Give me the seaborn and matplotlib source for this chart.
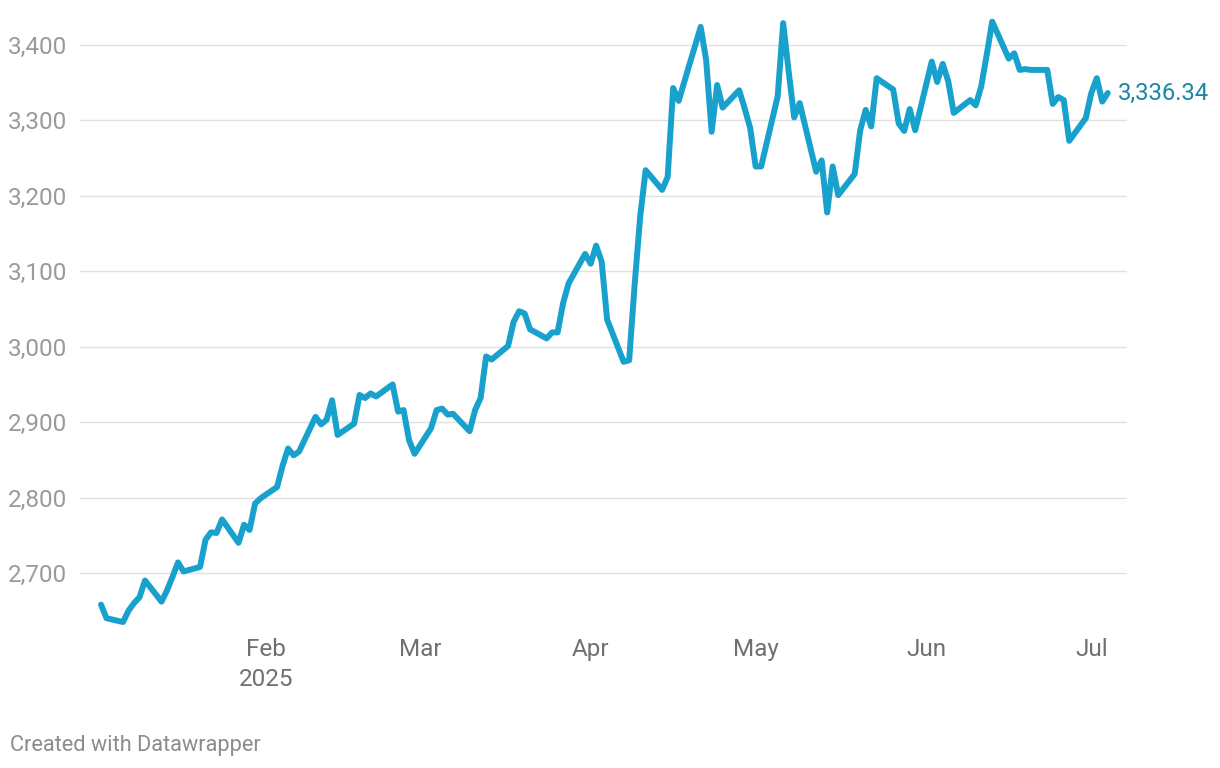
import numpy as np
import pandas as pd
import matplotlib
matplotlib.use("Agg")
import matplotlib.pyplot as plt
import matplotlib.dates as mdates
import seaborn as sns

# gold price, daily closes
dates = pd.to_datetime([
    "2025-01-02", "2025-01-03", "2025-01-06", "2025-01-07", "2025-01-08", "2025-01-09",
    "2025-01-10", "2025-01-13", "2025-01-14", "2025-01-15", "2025-01-16", "2025-01-17",
    "2025-01-20", "2025-01-21", "2025-01-22", "2025-01-23", "2025-01-24", "2025-01-27",
    "2025-01-28", "2025-01-29", "2025-01-30", "2025-01-31",
    "2025-02-03", "2025-02-04", "2025-02-05", "2025-02-06", "2025-02-07", "2025-02-10",
    "2025-02-11", "2025-02-12", "2025-02-13", "2025-02-14", "2025-02-17", "2025-02-18",
    "2025-02-19", "2025-02-20", "2025-02-21", "2025-02-24", "2025-02-25", "2025-02-26",
    "2025-02-27", "2025-02-28",
    "2025-03-03", "2025-03-04", "2025-03-05", "2025-03-06", "2025-03-07", "2025-03-10",
    "2025-03-11", "2025-03-12", "2025-03-13", "2025-03-14", "2025-03-17", "2025-03-18",
    "2025-03-19", "2025-03-20", "2025-03-21", "2025-03-24", "2025-03-25", "2025-03-26",
    "2025-03-27", "2025-03-28", "2025-03-31",
    "2025-04-01", "2025-04-02", "2025-04-03", "2025-04-04", "2025-04-07", "2025-04-08",
    "2025-04-09", "2025-04-10", "2025-04-11", "2025-04-14", "2025-04-15", "2025-04-16",
    "2025-04-17", "2025-04-21", "2025-04-22", "2025-04-23", "2025-04-24", "2025-04-25",
    "2025-04-28", "2025-04-29", "2025-04-30",
    "2025-05-01", "2025-05-02", "2025-05-05", "2025-05-06", "2025-05-07", "2025-05-08",
    "2025-05-09", "2025-05-12", "2025-05-13", "2025-05-14", "2025-05-15", "2025-05-16",
    "2025-05-19", "2025-05-20", "2025-05-21", "2025-05-22", "2025-05-23", "2025-05-26",
    "2025-05-27", "2025-05-28", "2025-05-29", "2025-05-30",
    "2025-06-02", "2025-06-03", "2025-06-04", "2025-06-05", "2025-06-06", "2025-06-09",
    "2025-06-10", "2025-06-11", "2025-06-12", "2025-06-13", "2025-06-16", "2025-06-17",
    "2025-06-18", "2025-06-19", "2025-06-20", "2025-06-23", "2025-06-24", "2025-06-25",
    "2025-06-26", "2025-06-27", "2025-06-30",
    "2025-07-01", "2025-07-02", "2025-07-03", "2025-07-04",
])
prices = [
    2658, 2640, 2635, 2650, 2660, 2668,
    2690, 2662, 2677, 2695, 2714, 2702,
    2708, 2744, 2754, 2753, 2771, 2740,
    2764, 2757, 2792, 2799,
    2814, 2842, 2865, 2856, 2861, 2907,
    2897, 2903, 2929, 2883, 2898, 2936,
    2932, 2938, 2934, 2950, 2914, 2916,
    2876, 2858,
    2892, 2916, 2918, 2910, 2911, 2888,
    2916, 2932, 2987, 2983, 3001, 3033,
    3047, 3044, 3023, 3011, 3019, 3019,
    3058, 3084, 3123,
    3110, 3134, 3113, 3036, 2980, 2982,
    3082, 3172, 3234, 3208, 3225, 3343,
    3326, 3424, 3380, 3285, 3347, 3317,
    3340, 3316, 3290,
    3239, 3239, 3332, 3429, 3365, 3304,
    3323, 3232, 3247, 3178, 3239, 3201,
    3229, 3287, 3314, 3292, 3356, 3341,
    3296, 3286, 3315, 3287,
    3378, 3351, 3375, 3352, 3310, 3327,
    3320, 3345, 3387, 3431, 3382, 3389,
    3367, 3368, 3367, 3367, 3322, 3331,
    3327, 3273, 3303,
    3336, 3356, 3325, 3336.34,
]
y_ticks = [2700, 2800, 2900, 3000, 3100, 3200, 3300, 3400]
month_ticks = pd.to_datetime(["2025-02-01", "2025-03-01", "2025-04-01",
                              "2025-05-01", "2025-06-01", "2025-07-01"])
month_labels = ["Feb\n2025", "Mar", "Apr", "May", "Jun", "Jul"]

df = pd.DataFrame({"date": dates, "price": prices})

sns.set_theme(style="white")
plt.rcParams['font.family'] = ['Roboto', 'DejaVu Sans']

fig = plt.figure(figsize=(12.2, 7.68), dpi=100)
ax = fig.add_axes([80 / 1220, 1 - 630 / 768, (1127 - 80) / 1220, 615 / 768])

sns.lineplot(data=df, x="date", y="price", ax=ax, color="#18a1cd", linewidth=4.3,
             solid_joinstyle="round", solid_capstyle="round")

start = pd.Timestamp("2025-01-01")
ax.set_xlim(start - pd.Timedelta(days=2.82), start + pd.Timedelta(days=187.5))
ax.set_ylim(2624.4, 3439.8)

ax.set_yticks(y_ticks)
ax.set_yticklabels([f"{v:,}" for v in y_ticks])
for lab in ax.get_yticklabels():
    lab.set_horizontalalignment("left")
ax.tick_params(axis="y", length=0, pad=52, labelsize=17.5, labelcolor="#9a9a9a")
ax.yaxis.grid(True, color="#e1e1e1", linewidth=1.0)
ax.xaxis.grid(False)

ax.set_xticks(month_ticks)
ax.set_xticklabels(month_labels, linespacing=1.35)
ax.tick_params(axis="x", length=0, pad=6, labelsize=17.5, labelcolor="#707070")

for s in ax.spines.values():
    s.set_visible(False)
ax.set_xlabel("")
ax.set_ylabel("")

ax.annotate(f"{prices[-1]:,.2f}", xy=(dates[-1], prices[-1]), xytext=(7, 0),
            textcoords="offset points", va="center", ha="left",
            fontsize=17.2, color="#1b85a8")

fig.text(10 / 1220, 1 - 745 / 768, "Created with Datawrapper", ha="left", va="center",
         fontsize=15.7, color="#8c8c8c")

fig.savefig("out.png", dpi=100)
